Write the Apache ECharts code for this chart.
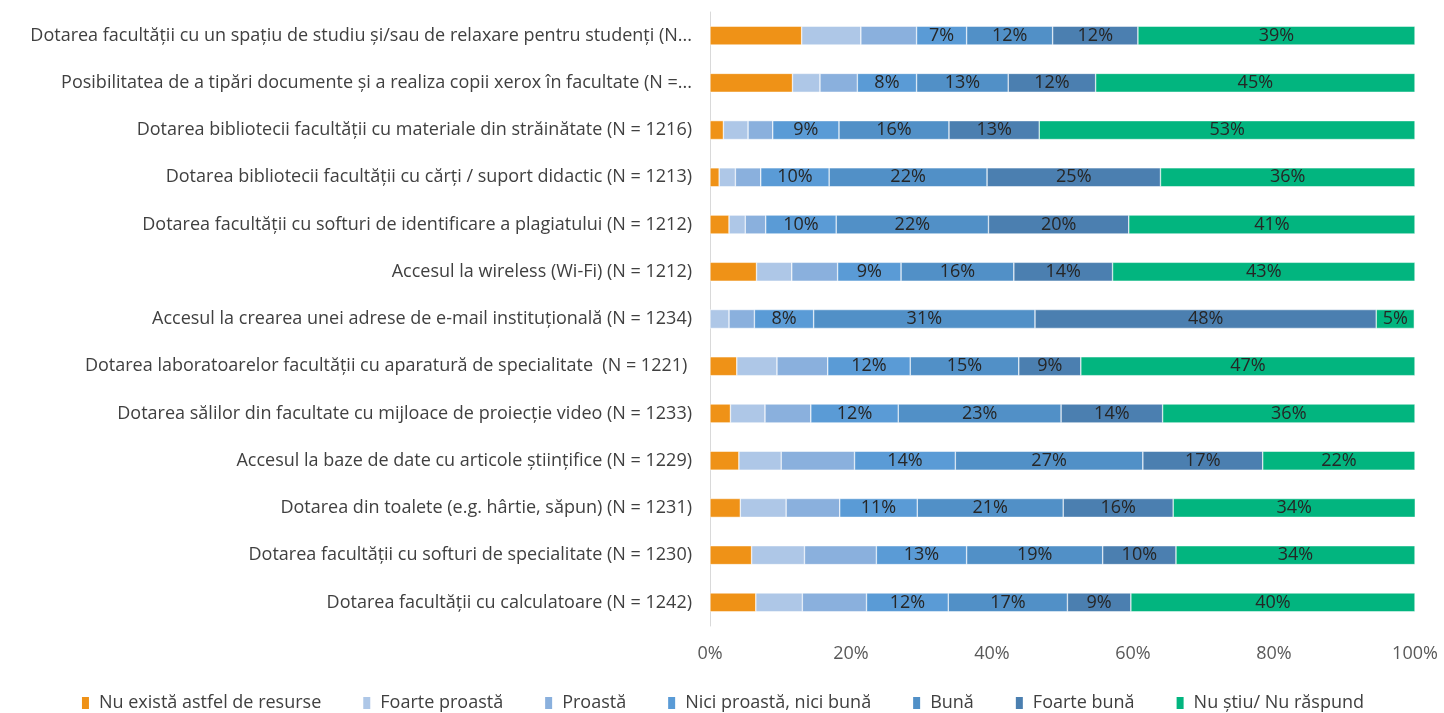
<!DOCTYPE html>
<html>
<head>
<meta charset="utf-8">
<script src="https://cdn.jsdelivr.net/npm/echarts@6/dist/echarts.min.js"></script>
<style>
  html, body { margin: 0; padding: 0; background: #fff; }
  #chart { width: 1444px; height: 713px; }
</style>
</head>
<body>
<div id="chart"></div>
<script>
// categories, top to bottom
var categories = [
  'Dotarea facultății cu un spațiu de studiu și/sau de relaxare pentru studenți (N...',
  'Posibilitatea de a tipări documente și a realiza copii xerox în facultate (N =...',
  'Dotarea bibliotecii facultății cu materiale din străinătate (N = 1216)',
  'Dotarea bibliotecii facultății cu cărți / suport didactic (N = 1213)',
  'Dotarea facultății cu softuri de identificare a plagiatului (N = 1212)',
  'Accesul la wireless (Wi-Fi) (N = 1212)',
  'Accesul la crearea unei adrese de e-mail instituțională (N = 1234)',
  'Dotarea laboratoarelor facultății cu aparatură de specialitate  (N = 1221) ',
  'Dotarea sălilor din facultate cu mijloace de proiecție video (N = 1233)',
  'Accesul la baze de date cu articole științifice (N = 1229)',
  'Dotarea din toalete (e.g. hârtie, săpun) (N = 1231)',
  'Dotarea facultății cu softuri de specialitate (N = 1230)',
  'Dotarea facultății cu calculatoare (N = 1242)'
];

var seriesNames = ['Nu există astfel de resurse', 'Foarte proastă', 'Proastă',
  'Nici proastă, nici bună', 'Bună', 'Foarte bună', 'Nu știu/ Nu răspund'];

var nuExista     = [13.0, 11.7, 1.9, 1.3, 2.7, 6.6, 0,    3.8, 2.9, 4.1, 4.3, 5.9, 6.5];
var foarteProasta= [8.4,  3.9,  3.5, 2.3, 2.3, 5.0, 2.7,  5.7, 4.9, 6.0, 6.5, 7.5, 6.6];
var proasta      = [7.9,  5.3,  3.5, 3.6, 2.9, 6.5, 3.6,  7.2, 6.5, 10.4, 7.6, 10.2, 9.1];
var niciNici     = [7.1,  8.4,  9.4, 9.7, 10.0, 9.0, 8.4, 11.7, 12.4, 14.3, 11.0, 12.8, 11.6];
var buna         = [12.2, 13.0, 15.6, 22.4, 21.6, 16.0, 31.4, 15.4, 23.1, 26.6, 20.7, 19.3, 16.9];
var foarteBuna   = [12.1, 12.4, 12.8, 24.6, 19.9, 14.0, 48.4, 8.8, 14.4, 17.0, 15.6, 10.4, 9.0];
var nuStiu       = [39.3, 45.3, 53.3, 36.1, 40.6, 42.9, 5.4, 47.4, 35.8, 21.6, 34.4, 33.9, 40.3];

var values = [nuExista, foarteProasta, proasta, niciNici, buna, foarteBuna, nuStiu];
var colors = ['#EF9217', '#AEC7E7', '#8AB0DD', '#5A9BD6', '#5190C7', '#4B7FB0', '#02B57F'];

var font = 'Open Sans';

var series = seriesNames.map(function (name, i) {
  return {
    name: name,
    type: 'bar',
    stack: 'total',
    barCategoryGap: '60%',
    data: values[i],
    itemStyle: { color: colors[i], borderColor: '#fff', borderWidth: 0.5 },
    label: {
      show: i >= 3,
      position: 'inside',
      color: '#262626',
      fontFamily: font,
      fontSize: 18,
      formatter: function (p) { return Math.round(p.value) + '%'; }
    }
  };
});

var chart = echarts.init(document.getElementById('chart'));
chart.setOption({
  animation: false,
  textStyle: { fontFamily: font },
  grid: { left: 710, right: 29, top: 12, bottom: 87 },
  legend: {
    top: 689,
    left: 'center',
    itemWidth: 9,
    itemHeight: 14,
    itemGap: 40,
    icon: 'rect',
    textStyle: { fontFamily: font, fontSize: 18, color: '#404040', padding: [0, 0, 0, 4] },
    data: seriesNames
  },
  xAxis: {
    type: 'value',
    min: 0,
    max: 100,
    interval: 20,
    axisLine: { show: false },
    axisTick: { show: false },
    splitLine: { show: false },
    axisLabel: {
      formatter: '{value}%',
      fontFamily: font,
      fontSize: 18,
      color: '#595959',
      margin: 19
    }
  },
  yAxis: {
    type: 'category',
    inverse: true,
    data: categories,
    axisLine: { show: true, lineStyle: { color: '#d9d9d9', width: 1 } },
    axisTick: { show: false },
    axisLabel: {
      fontFamily: font,
      fontSize: 18,
      color: '#404040',
      margin: 18
    }
  },
  series: series
});
</script>
</body>
</html>
